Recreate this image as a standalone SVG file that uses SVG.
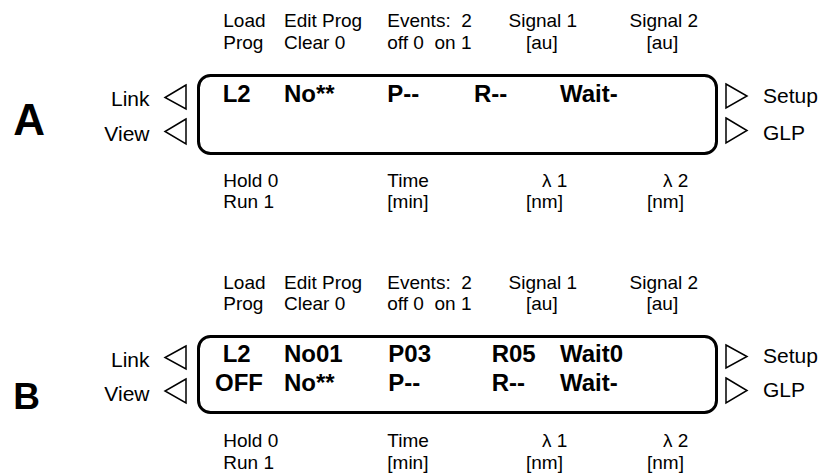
<svg xmlns="http://www.w3.org/2000/svg" width="822" height="473" viewBox="0 0 822 473">
<style>
text{font-family:"Liberation Sans",Arial,sans-serif;fill:#000;white-space:pre}
.lbl{font-size:19px}
.side{font-size:21px}
.lcd{font-size:24px;font-weight:bold}
.box{fill:none;stroke:#000;stroke-width:3}
.tri{fill:#fff;stroke:#000;stroke-width:1.5;stroke-linejoin:miter}
</style>
<rect width="822" height="473" fill="#fff"/>
<g id="panelA">
  <text x="13.3" y="135" style="font-size:44px;font-weight:bold">A</text>
  <g id="A-top" class="lbl">
    <text class="lbl" x="223.3" y="27">Load</text>
    <text class="lbl" x="223.3" y="48.5">Prog</text>
    <text class="lbl" x="284" y="27">Edit Prog</text>
    <text class="lbl" x="284" y="48.5">Clear 0</text>
    <text class="lbl" x="387.3" y="27">Events:  2</text>
    <text class="lbl" x="387.3" y="48.5">off 0  on 1</text>
    <text class="lbl" x="508.5" y="27">Signal 1</text>
    <text class="lbl" x="526" y="48.5">[au]</text>
    <text class="lbl" x="629.5" y="27">Signal 2</text>
    <text class="lbl" x="646.5" y="48.5">[au]</text>
  </g>
  <rect class="box" x="198.5" y="75.5" width="518" height="78" rx="12"/>
  <text class="lcd" x="222.7" y="102">L2</text>
  <text class="lcd" x="284" y="102">No**</text>
  <text class="lcd" x="387.3" y="102">P--</text>
  <text class="lcd" x="474" y="102">R--</text>
  <text class="lcd" x="560" y="102">Wait-</text>
  <polygon class="tri" points="186,85 165,97.5 186,109"/>
  <polygon class="tri" points="186,119 165,131.5 186,144"/>
  <polygon class="tri" points="726,84 747,96 726,108"/>
  <polygon class="tri" points="726,118 747,130.5 726,143"/>
  <text class="side" x="149.5" y="106" text-anchor="end">Link</text>
  <text class="side" x="149.5" y="140.7" text-anchor="end">View</text>
  <text class="side" x="763" y="103.3">Setup</text>
  <text class="side" x="763" y="140">GLP</text>
  <text class="lbl" x="223.3" y="186.7">Hold 0</text>
  <text class="lbl" x="223.3" y="208.3">Run 1</text>
  <text class="lbl" x="387.3" y="186.7">Time</text>
  <text class="lbl" x="387.3" y="208.3">[min]</text>
  <text class="lbl" x="542" y="186.7">λ 1</text>
  <text class="lbl" x="526" y="208.3">[nm]</text>
  <text class="lbl" x="663" y="186.7">λ 2</text>
  <text class="lbl" x="647" y="208.3">[nm]</text>
</g>
<g id="panelB">
  <text x="13.3" y="409.3" style="font-size:37px;font-weight:bold">B</text>
  <text class="lbl" x="223.3" y="288.5">Load</text>
  <text class="lbl" x="223.3" y="310">Prog</text>
  <text class="lbl" x="284" y="288.5">Edit Prog</text>
  <text class="lbl" x="284" y="310">Clear 0</text>
  <text class="lbl" x="387.3" y="288.5">Events:  2</text>
  <text class="lbl" x="387.3" y="310">off 0  on 1</text>
  <text class="lbl" x="508.5" y="288.5">Signal 1</text>
  <text class="lbl" x="526" y="310">[au]</text>
  <text class="lbl" x="629.5" y="288.5">Signal 2</text>
  <text class="lbl" x="646.5" y="310">[au]</text>
  <rect class="box" x="198.5" y="336.5" width="518" height="76" rx="12"/>
  <text class="lcd" x="222.7" y="362">L2</text>
  <text class="lcd" x="284" y="362">No01</text>
  <text class="lcd" x="388.3" y="362">P03</text>
  <text class="lcd" x="491.7" y="362">R05</text>
  <text class="lcd" x="560" y="362">Wait0</text>
  <text class="lcd" x="215" y="390.5">OFF</text>
  <text class="lcd" x="284" y="390.5">No**</text>
  <text class="lcd" x="388.3" y="390.5">P--</text>
  <text class="lcd" x="491.7" y="390.5">R--</text>
  <text class="lcd" x="560" y="390.5">Wait-</text>
  <polygon class="tri" points="186,346 165,357.5 186,369"/>
  <polygon class="tri" points="186,379 165,391 186,403"/>
  <polygon class="tri" points="726,345 747,356.5 726,368"/>
  <polygon class="tri" points="726,378 747,390.5 726,403"/>
  <text class="side" x="149.5" y="366.7" text-anchor="end">Link</text>
  <text class="side" x="149.5" y="400.7" text-anchor="end">View</text>
  <text class="side" x="763" y="363.3">Setup</text>
  <text class="side" x="763" y="396.7">GLP</text>
  <text class="lbl" x="223.3" y="447.3">Hold 0</text>
  <text class="lbl" x="223.3" y="469">Run 1</text>
  <text class="lbl" x="387.3" y="447.3">Time</text>
  <text class="lbl" x="387.3" y="469">[min]</text>
  <text class="lbl" x="542" y="447.3">λ 1</text>
  <text class="lbl" x="526" y="469">[nm]</text>
  <text class="lbl" x="663" y="447.3">λ 2</text>
  <text class="lbl" x="647" y="469">[nm]</text>
</g>
<g id="connectors"/>
</svg>
